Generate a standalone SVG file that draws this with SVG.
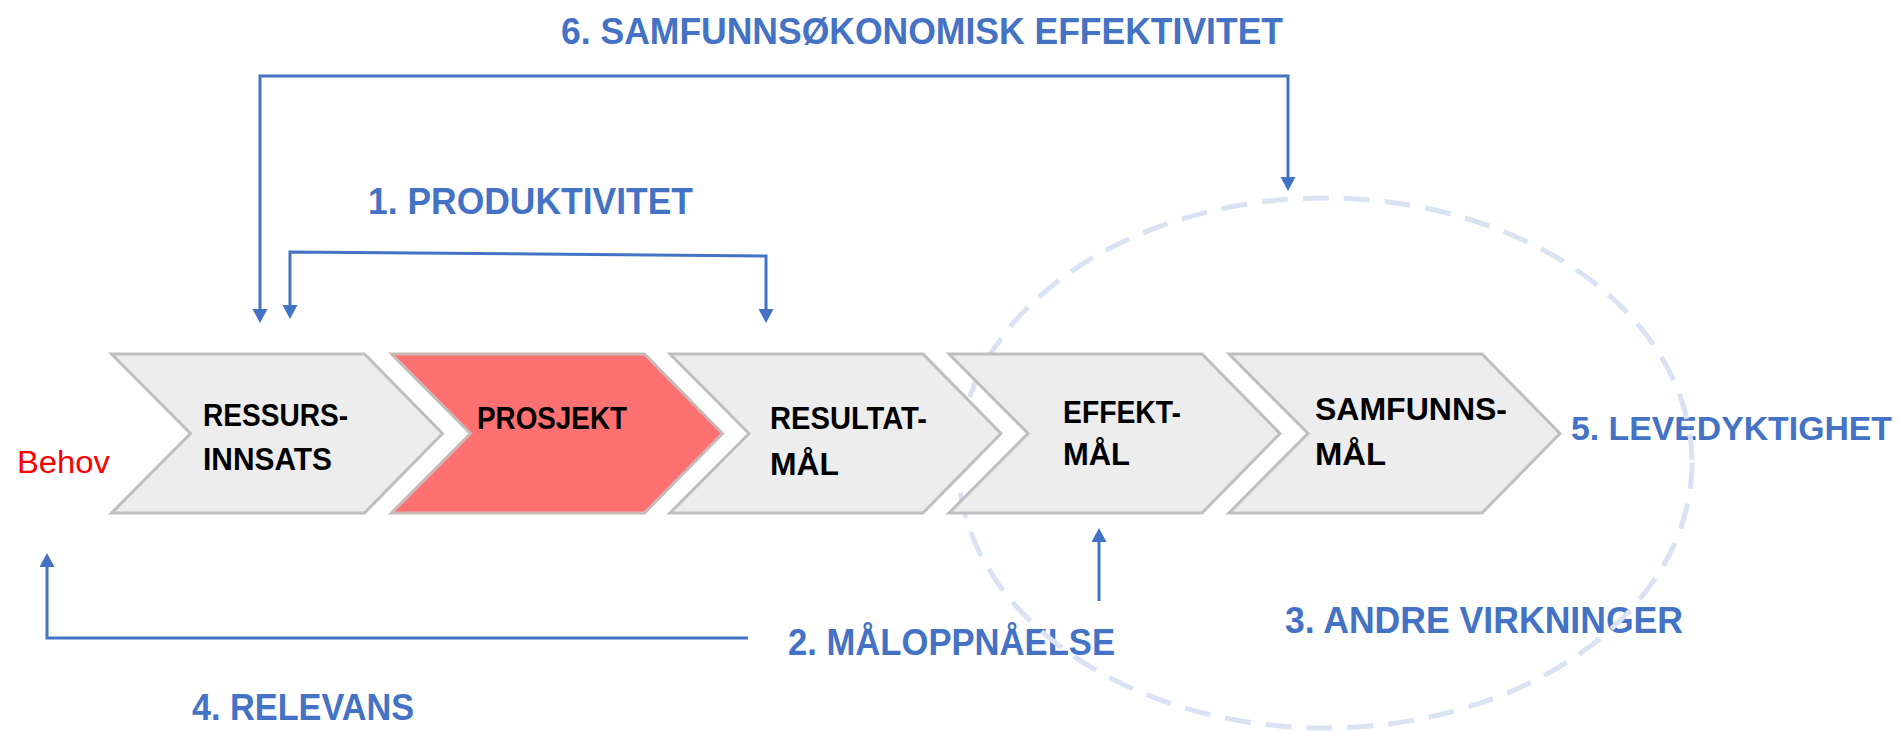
<svg xmlns="http://www.w3.org/2000/svg" xmlns:xlink="http://www.w3.org/1999/xlink" width="1901" height="731" viewBox="0 0 1901 731">
<style>
.chev{fill:#EDEDED;stroke:#BFBFBF;stroke-width:3;stroke-linejoin:miter}
.chev-red{fill:#FF7070;stroke:#C9B8B8;stroke-width:3}
.lbl{font-family:"Liberation Sans",Arial,sans-serif;font-weight:bold;font-size:31px;fill:#000}
.blue{font-family:"Liberation Sans",Arial,sans-serif;font-weight:bold;font-size:37px;fill:#4472C4}
.conn{fill:none;stroke:#4472C4;stroke-width:3}
.behov{font-family:"Liberation Sans",Arial,sans-serif;font-size:31px;fill:#FF0000}
</style>
<defs>
<path id="chevshape" d="M0,0 H253 L331,79.5 L253,159 H0 L79,79.5 Z"/>
<marker id="ah" markerUnits="userSpaceOnUse" markerWidth="16" markerHeight="16" refX="6" refY="7.5" orient="auto-start-reverse" viewBox="0 0 16 16">
<path d="M0,0 L14,7.5 L0,15 Z" fill="#4472C4"/>
</marker>
</defs>
<rect width="1901" height="731" fill="#FFFFFF"/>

<g id="labels">
<text class="blue" x="561" y="44" textLength="722" lengthAdjust="spacingAndGlyphs">6. SAMFUNNSØKONOMISK EFFEKTIVITET</text>
<text class="blue" x="368" y="214" textLength="325" lengthAdjust="spacingAndGlyphs">1. PRODUKTIVITET</text>
<text class="blue" x="1571" y="440" style="font-size:34px" textLength="321" lengthAdjust="spacingAndGlyphs">5. LEVEDYKTIGHET</text>
<text class="blue" x="788" y="655" textLength="327" lengthAdjust="spacingAndGlyphs">2. MÅLOPPNÅELSE</text>
<text class="blue" x="1285" y="633" textLength="398" lengthAdjust="spacingAndGlyphs">3. ANDRE VIRKNINGER</text>
<text class="blue" x="192" y="720" textLength="222" lengthAdjust="spacingAndGlyphs">4. RELEVANS</text>
<text class="behov" x="17" y="473" textLength="93" lengthAdjust="spacingAndGlyphs">Behov</text>
</g>

<g id="andre-virkninger-ellipse">
<ellipse cx="1325" cy="463" rx="367" ry="265" fill="none" stroke="#DAE3F3" stroke-width="5" stroke-dasharray="26 15"/>
</g>

<g id="node-ressursinnsats">
<use xlink:href="#chevshape" href="#chevshape" class="chev" x="111.5" y="354"/>
<text class="lbl" x="203" y="426" textLength="145" lengthAdjust="spacingAndGlyphs">RESSURS-</text>
<text class="lbl" x="203" y="470" textLength="129" lengthAdjust="spacingAndGlyphs">INNSATS</text>
</g>
<g id="node-prosjekt">
<use xlink:href="#chevshape" href="#chevshape" class="chev-red" x="391.5" y="354"/>
<text class="lbl" x="477" y="429" textLength="150" lengthAdjust="spacingAndGlyphs">PROSJEKT</text>
</g>
<g id="node-resultatmal">
<use xlink:href="#chevshape" href="#chevshape" class="chev" x="670" y="354"/>
<text class="lbl" x="770" y="429" textLength="157" lengthAdjust="spacingAndGlyphs">RESULTAT-</text>
<text class="lbl" x="770" y="475" textLength="69" lengthAdjust="spacingAndGlyphs">MÅL</text>
</g>
<g id="node-effektmal">
<use xlink:href="#chevshape" href="#chevshape" class="chev" x="949" y="354"/>
<text class="lbl" x="1063" y="423" textLength="118" lengthAdjust="spacingAndGlyphs">EFFEKT-</text>
<text class="lbl" x="1063" y="465" textLength="67" lengthAdjust="spacingAndGlyphs">MÅL</text>
</g>
<g id="node-samfunnsmal">
<use xlink:href="#chevshape" href="#chevshape" class="chev" x="1229" y="354"/>
<text class="lbl" x="1315" y="420" textLength="192" lengthAdjust="spacingAndGlyphs">SAMFUNNS-</text>
<text class="lbl" x="1315" y="465" textLength="71" lengthAdjust="spacingAndGlyphs">MÅL</text>
</g>

<g id="connectors">
<path class="conn" d="M260,315 V76 H1288 V183" marker-start="url(#ah)" marker-end="url(#ah)"/>
<path class="conn" d="M290,311 V252 L766,256 V315" marker-start="url(#ah)" marker-end="url(#ah)"/>
<path class="conn" d="M748,638 H47 V561" marker-end="url(#ah)"/>
<path class="conn" d="M1099,601 V536" marker-end="url(#ah)"/>
</g>
</svg>
